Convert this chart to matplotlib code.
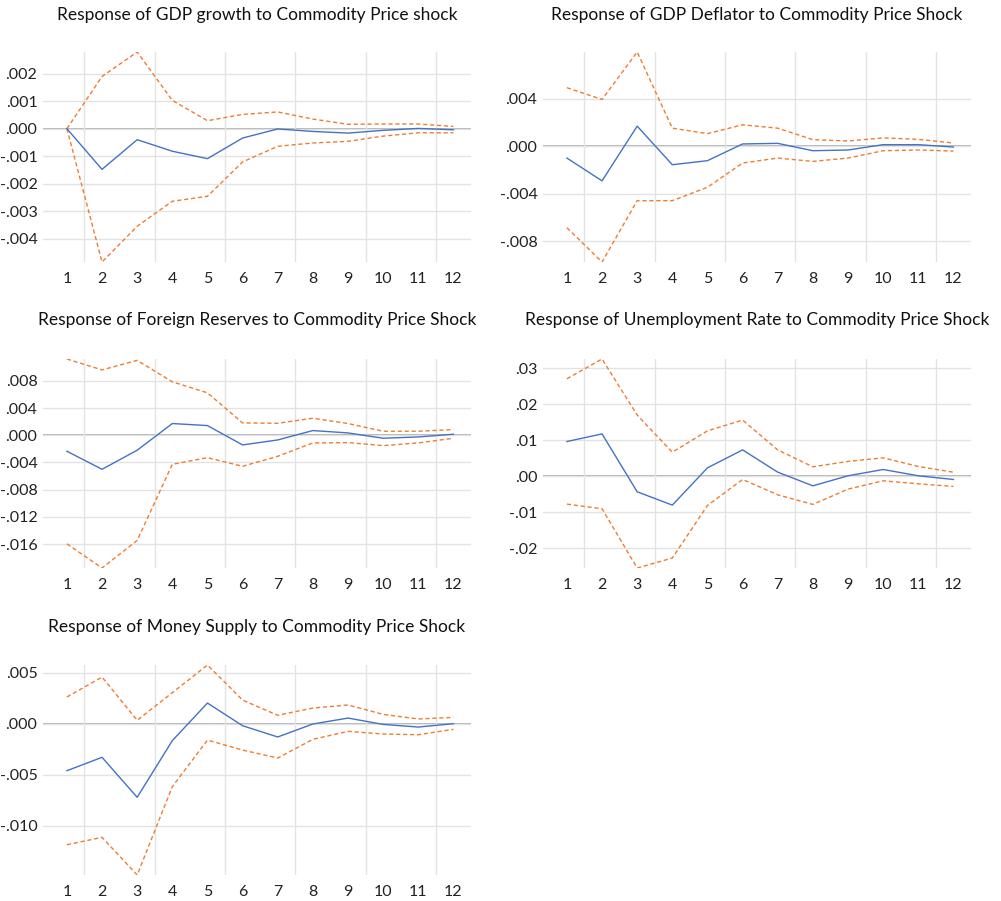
import matplotlib
matplotlib.use("Agg")
import matplotlib.pyplot as plt
from matplotlib.ticker import MultipleLocator, FuncFormatter

# ─── Data (impulse responses, periods 1..12) ─────────────────────────────────

periods = list(range(1, 13))

gdp_mid = [0.0, -0.00148, -0.00040, -0.00082, -0.00109, -0.00034,
           -0.00001, -0.00010, -0.00016, -0.00006, 0.00001, -0.00004]
gdp_up = [0.0, 0.00190, 0.00279, 0.00103, 0.00029, 0.00052,
          0.00061, 0.00035, 0.00016, 0.00017, 0.00017, 0.00008]
gdp_lo = [0.0, -0.00485, -0.00355, -0.00264, -0.00246, -0.00121,
          -0.00064, -0.00052, -0.00046, -0.00027, -0.00015, -0.00015]

defl_mid = [-0.00099, -0.00291, 0.00170, -0.00155, -0.00121, 0.00020,
            0.00025, -0.00037, -0.00031, 0.00014, 0.00014, -0.00006]
defl_up = [0.00494, 0.00395, 0.00795, 0.00153, 0.00107, 0.00181,
           0.00153, 0.00056, 0.00045, 0.00071, 0.00059, 0.00028]
defl_lo = [-0.00686, -0.00975, -0.00458, -0.00458, -0.00345, -0.00141,
           -0.00099, -0.00127, -0.00099, -0.00037, -0.00031, -0.00040]

res_mid = [-0.00235, -0.00500, -0.00220, 0.00172, 0.00142, -0.00142,
           -0.00069, 0.00069, 0.00034, -0.00044, -0.00025, 0.00015]
res_up = [0.01120, 0.00960, 0.01100, 0.00785, 0.00623, 0.00181,
          0.00176, 0.00250, 0.00172, 0.00059, 0.00059, 0.00083]
res_lo = [-0.01595, -0.01950, -0.01545, -0.00427, -0.00329, -0.00456,
          -0.00309, -0.00113, -0.00108, -0.00152, -0.00113, -0.00044]

unemp_mid = [0.00963, 0.01176, -0.00435, -0.00806, 0.00231, 0.00731,
             0.00111, -0.00269, 0.00010, 0.00185, 0.00010, -0.00093]
unemp_up = [0.0271, 0.0326, 0.0170, 0.00667, 0.0126, 0.0156,
            0.0073, 0.0026, 0.0041, 0.0051, 0.0027, 0.0011]
unemp_lo = [-0.00778, -0.00907, -0.02556, -0.02278, -0.00815, -0.00093,
            -0.00519, -0.00787, -0.00361, -0.00130, -0.00213, -0.00287]

money_mid = [-0.00460, -0.00329, -0.00720, -0.00166, 0.00202, -0.00020,
             -0.00130, -0.00003, 0.00055, -0.00007, -0.00033, 0.0]
money_up = [0.00261, 0.00456, 0.00033, 0.00303, 0.00574, 0.00231,
            0.00082, 0.00153, 0.00183, 0.00091, 0.00046, 0.00062]
money_lo = [-0.01184, -0.01112, -0.01480, -0.00616, -0.00160, -0.00258,
            -0.00336, -0.00153, -0.00075, -0.00101, -0.00108, -0.00055]

titles = [
    "Response of GDP growth to Commodity Price shock",
    "Response of GDP Deflator to Commodity Price Shock",
    "Response of Foreign Reserves to Commodity Price Shock",
    "Response of Unemployment Rate to Commodity Price Shock",
    "Response of Money Supply to Commodity Price Shock",
]
tick_steps = [0.001, 0.004, 0.004, 0.01, 0.005]
tick_decimals = [3, 3, 3, 2, 3]

# ─── Style ───────────────────────────────────────────────────────────────────

BLUE = "#4472C4"
ORANGE = "#ED7D31"
GRID = "#E3E3E3"
ZERO = "#A6A6A6"
plt.rcParams["font.family"] = ["Lato", "DejaVu Sans"]

W, H = 1001, 901
fig = plt.figure(figsize=(W / 100, H / 100), dpi=100)

# panel boxes in pixels: (left, top, right, bottom)
boxes = [
    (43, 52, 471, 262),
    (543, 52, 971, 262),
    (43, 359, 471, 568),
    (543, 359, 971, 568),
    (43, 665, 471, 875),
]
title_y = [15, 15, 320, 320, 627]

series = [
    (gdp_mid, gdp_up, gdp_lo),
    (defl_mid, defl_up, defl_lo),
    (res_mid, res_up, res_lo),
    (unemp_mid, unemp_up, unemp_lo),
    (money_mid, money_up, money_lo),
]


def make_fmt(dec):
    def _f(v, pos):
        if abs(v) < 1e-12:
            v = 0.0
        s = f"{v:.{dec}f}"
        return s.replace("0.", ".", 1)
    return FuncFormatter(_f)


for i, ((mid, up, lo), box) in enumerate(zip(series, boxes)):
    l, t, r, b = box
    ax = fig.add_axes([l / W, 1 - b / H, (r - l) / W, (b - t) / H])
    ax.plot(periods, up, color=ORANGE, lw=1.0, dashes=(3, 2))
    ax.plot(periods, lo, color=ORANGE, lw=1.0, dashes=(3, 2))
    ax.plot(periods, mid, color=BLUE, lw=1.0)
    ax.axhline(0, color=ZERO, lw=1.2, zorder=0.5)

    ax.set_xlim(0.32, 12.5)
    ax.set_ylim(min(lo), max(up))
    ax.set_xticks(periods)
    ax.set_xticks([k + 0.5 for k in range(1, 12, 2)], minor=True)
    ax.yaxis.set_major_locator(MultipleLocator(tick_steps[i]))
    ax.yaxis.set_major_formatter(make_fmt(tick_decimals[i]))

    ax.grid(axis="y", which="major", color=GRID, lw=1.0)
    ax.grid(axis="x", which="minor", color=GRID, lw=1.0)
    ax.grid(axis="x", which="major", visible=False)
    ax.set_axisbelow(True)
    ax.tick_params(which="both", length=0, labelsize=11.5, colors="#222222")
    ax.tick_params(axis="x", pad=7)
    ax.tick_params(axis="y", pad=4)
    for s in ax.spines.values():
        s.set_visible(False)

    fig.text((l + r) / 2 / W, 1 - title_y[i] / H, titles[i],
             ha="center", va="center", fontsize=12.5, color="#111111")

fig.savefig("out.png", dpi=100)
